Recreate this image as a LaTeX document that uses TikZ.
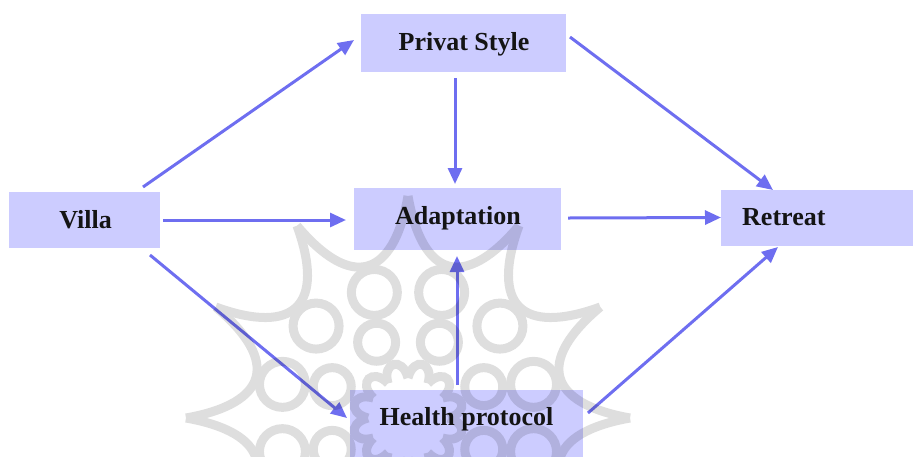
\documentclass[tikz,border=0pt]{standalone}
\usepackage{fontspec}
\setmainfont{Liberation Serif}
\usetikzlibrary{arrows.meta,calc}
\definecolor{boxfill}{RGB}{204,204,255}
\definecolor{arrowblue}{RGB}{110,110,240}
\begin{document}
\begin{tikzpicture}[x=1pt,y=-1pt,
  box/.style={fill=boxfill,draw=none,inner sep=0pt,outer sep=0pt},
  lbl/.style={font=\fontsize{26}{30}\selectfont\bfseries,inner sep=0pt,text=black!92,anchor=base},
  arr/.style={draw=arrowblue,line width=3pt,-{Triangle[length=16pt,width=14pt]}},
  orn/.style={draw=black,line width=9pt}]
\useasboundingbox (0,0) rectangle (913,456);
\clip (0,0) rectangle (913,456);

% boxes
\node[box,minimum width=151pt,minimum height=56pt] (villa)   at (84.5,220) {};
\node[box,minimum width=205pt,minimum height=58pt] (privat)  at (463.5,43) {};
\node[box,minimum width=207pt,minimum height=62pt] (adapt)   at (457.5,219) {};
\node[box,minimum width=194pt,minimum height=56pt] (retreat) at (818,218) {};
\node[box,minimum width=233pt,minimum height=80pt] (health)  at (466.5,430) {};

% labels
\node[lbl] (villaT)   at (85.5,228)  {Villa};
\node[lbl] (privatT)  at (464,50)    {Privat Style};
\node[lbl] (adaptT)   at (458,224)   {Adaptation};
\node[lbl,anchor=base west] (retreatT) at (742,225) {Retreat};
\node[lbl] (healthT)  at (466.5,425) {Health protocol};

% connectors
\draw[arr] ([shift={(-17,-5)}]villa.north east) -- ([shift={(-7,-3)}]privat.west);
\draw[arr] ([xshift=3pt]villa.east) -- ([xshift=-8pt]adapt.west |- villa.east);
\draw[arr] ([shift={(-10,7)}]villa.south east) -- ([shift={(-3,-12)}]health.west);
\draw[arr] ([shift={(-8.5,6)}]privat.south) -- ([shift={(-2.5,-4)}]adapt.north);
\draw[arr] ([shift={(4,-6)}]privat.east) -- ([shift={(-45,0)}]retreat.north);
\draw[arr] ([shift={(7,-1)}]adapt.east) -- ([shift={(0,-0.5)}]retreat.west);
\draw[arr] ([shift={(-9.5,-5)}]health.north) -- ([shift={(-0.5,6)}]adapt.south);
\draw[arr] ([shift={(5,-17)}]health.east) -- ([shift={(-40,1)}]retreat.south);

% faint rosette ornament laid over the drawing
\begin{scope}[shift={(408,418)},transparency group,opacity=0.13]
  \foreach \a in {0,30,...,330}{
    \draw[orn] (\a:222) .. controls (\a+6:140) and (\a+24:140) .. (\a+30:222);
    \draw[orn] (\a+15:130) circle (23);
  }
  \foreach \a in {0,45,...,315}{
    \draw[orn] (\a+22.5:82) circle (19);
  }
  \foreach \a in {0,30,...,330}{
    \draw[orn] (\a:40) .. controls (\a+5:62) and (\a+25:62) .. (\a+30:40);
  }
\end{scope}
\end{tikzpicture}
\end{document}
